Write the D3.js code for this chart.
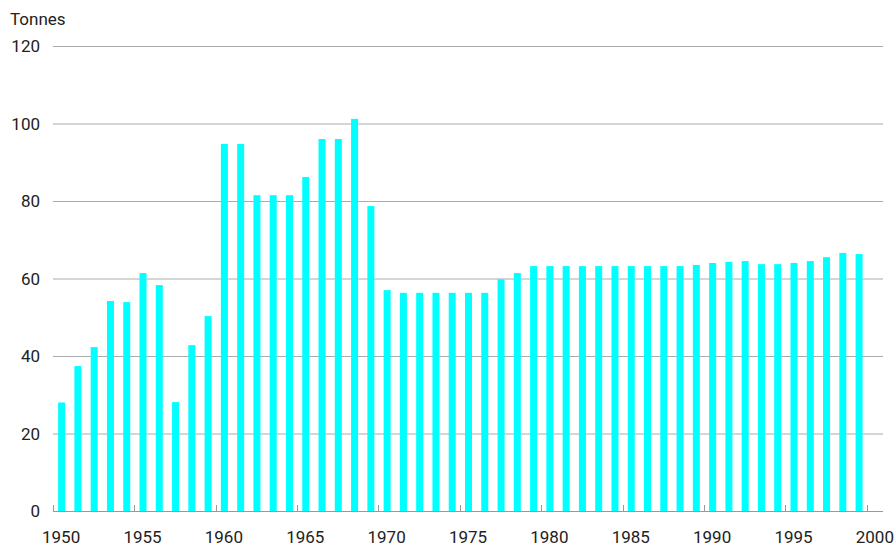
<!DOCTYPE html>
<html lang="en">
<head>
    <meta charset="UTF-8">
    <title>Tonnes</title>
    <script src="https://cdn.jsdelivr.net/npm/d3@7"></script>
    <style>
        body {
            margin: 0;
            background: white;
        }
        text {
            font-family: Roboto, sans-serif;
            font-size: 17px;
            fill: #222;
        }
    </style>
</head>
<body>
    <script>
        // data
        const years = d3.range(1950, 2001);
        const tonnes = [
            28, 37.4, 42.3, 54.2, 53.9, 61.4, 58.3, 28.1, 42.8, 50.3,
            94.7, 94.7, 81.5, 81.5, 81.5, 86.2, 96.0, 96.0, 101.2, 78.7,
            57.0, 56.3, 56.3, 56.3, 56.3, 56.3, 56.3, 59.8, 61.4, 63.2,
            63.2, 63.2, 63.2, 63.2, 63.2, 63.2, 63.2, 63.2, 63.2, 63.5,
            64.0, 64.3, 64.5, 63.7, 63.7, 64.0, 64.5, 65.5, 66.6, 66.3
        ];
        const yTicks = [0, 20, 40, 60, 80, 100, 120];
        const xTicks = [1950, 1955, 1960, 1965, 1970, 1975, 1980, 1985, 1990, 1995, 2000];

        const width = 895;
        const height = 547;
        const mLeft = 53, mRight = 883, mTop = 46, mBottom = 511;

        let svg = d3.select("body").append("svg")
            .attr("width", width)
            .attr("height", height);

        let x = d3.scaleBand()
            .domain(years)
            .range([mLeft, mRight])
            .padding(0);

        let y = d3.scaleLinear()
            .domain([0, 120])
            .range([mBottom, mTop]);

        // gridlines
        svg.append("g")
            .selectAll("line")
            .data(yTicks.filter(d => d > 0))
            .enter()
            .append("line")
            .attr("x1", mLeft)
            .attr("x2", mRight)
            .attr("y1", d => y(d) + 0.5)
            .attr("y2", d => y(d) + 0.5)
            .attr("stroke", "#ababab")
            .attr("stroke-width", 1);

        // y labels
        svg.append("g")
            .selectAll("text")
            .data(yTicks)
            .enter()
            .append("text")
            .attr("x", 40)
            .attr("y", d => y(d) + 6)
            .attr("text-anchor", "end")
            .text(d => d);

        svg.append("text")
            .attr("x", 10)
            .attr("y", 25)
            .text("Tonnes");

        // bars
        const barW = x.bandwidth() * 0.43;
        svg.append("g")
            .selectAll("rect")
            .data(tonnes)
            .enter()
            .append("rect")
            .attr("x", (d, i) => x(years[i]) + (x.bandwidth() - barW) / 2 + 0.5)
            .attr("width", barW)
            .attr("y", d => y(d))
            .attr("height", d => y(0) - y(d))
            .attr("fill", "#00ffff");

        // x axis
        svg.append("line")
            .attr("x1", mLeft)
            .attr("x2", mRight)
            .attr("y1", mBottom + 0.5)
            .attr("y2", mBottom + 0.5)
            .attr("stroke", "#999")
            .attr("stroke-width", 1.2);

        let xAxis = svg.append("g");
        xAxis.selectAll("line")
            .data(xTicks)
            .enter()
            .append("line")
            .attr("x1", d => Math.round(x(d)) + 0.5)
            .attr("x2", d => Math.round(x(d)) + 0.5)
            .attr("y1", mBottom - 6)
            .attr("y2", mBottom)
            .attr("stroke", "#999");

        xAxis.selectAll("text")
            .data(xTicks)
            .enter()
            .append("text")
            .attr("x", d => x(d) + x.bandwidth() / 2)
            .attr("y", 543)
            .attr("text-anchor", "middle")
            .text(d => d);
    </script>
</body>
</html>
